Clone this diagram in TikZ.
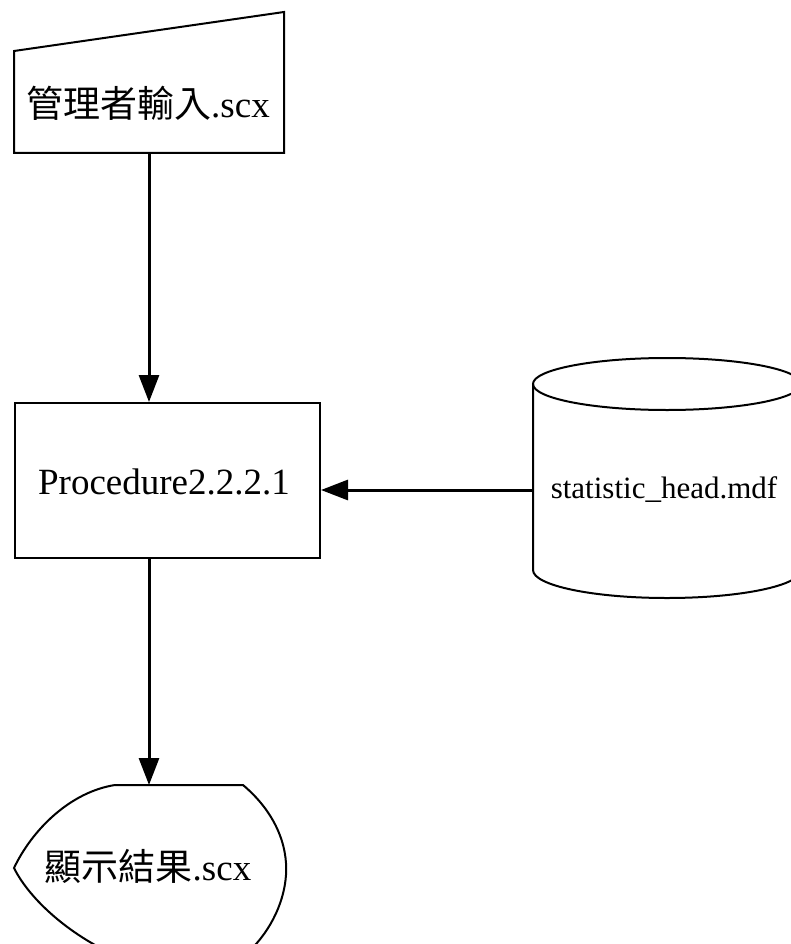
\documentclass[tikz,border=0pt]{standalone}
\usepackage{fontspec}
\setmainfont{Liberation Serif}
\newfontfamily\cjk{Noto Sans CJK TC}
\usetikzlibrary{calc, positioning}
\usetikzlibrary{arrows.meta}

\begin{document}
\begin{tikzpicture}[x=1pt, y=-1pt,
  shapeline/.style={line width=2pt, black},
  flow/.style={-{Triangle[length=27pt, width=20pt]}, line width=3pt, black},
  proc/.style={draw, shapeline, minimum width=305pt, minimum height=155pt, inner sep=0pt}]
\useasboundingbox (0,0) rectangle (790,944);
\def\rx{134}
\coordinate (inpB) at (149,153);
\coordinate (dispT) at (149,785);
\coordinate (dbW) at (533,490);

\draw[shapeline] (14,51) -- (284,12) -- (284,153) -- (14,153) -- cycle;
\node (inp) at (148,103) {\fontsize{37}{42}\selectfont{\cjk 管理者輸入}.scx};

\node[proc] (proc) at (167.5,480.5) {};
\node (proctext) at (164,482) {\fontsize{37}{42}\selectfont Procedure2.2.2.1};

\draw[shapeline] (667,384) ellipse [x radius=\rx, y radius=26];
\draw[shapeline] (533,384) -- (533,570)
  arc[start angle=180, end angle=0, x radius=\rx, y radius=28] -- (801,384);
\node (db) at (664,490) {\fontsize{31}{36}\selectfont statistic\_head.mdf};

\draw[shapeline] (115,785) -- (243,785)
  .. controls (275,812) and (288,845) .. (286,875)
  .. controls (284,905) and (268,935) .. (245,955)
  -- (115,955)
  .. controls (70,935) and (30,900) .. (14,868)
  .. controls (32,830) and (70,792) .. (115,785);
\node (disp) at (148,866) {\fontsize{37}{42}\selectfont{\cjk 顯示結果}.scx};

\draw[flow] (inpB) -- (inpB |- proc.north);
\draw[flow] (inpB |- proc.south) -- (dispT);
\draw[flow] (dbW) -- (proc.east |- dbW);
\end{tikzpicture}
\end{document}
